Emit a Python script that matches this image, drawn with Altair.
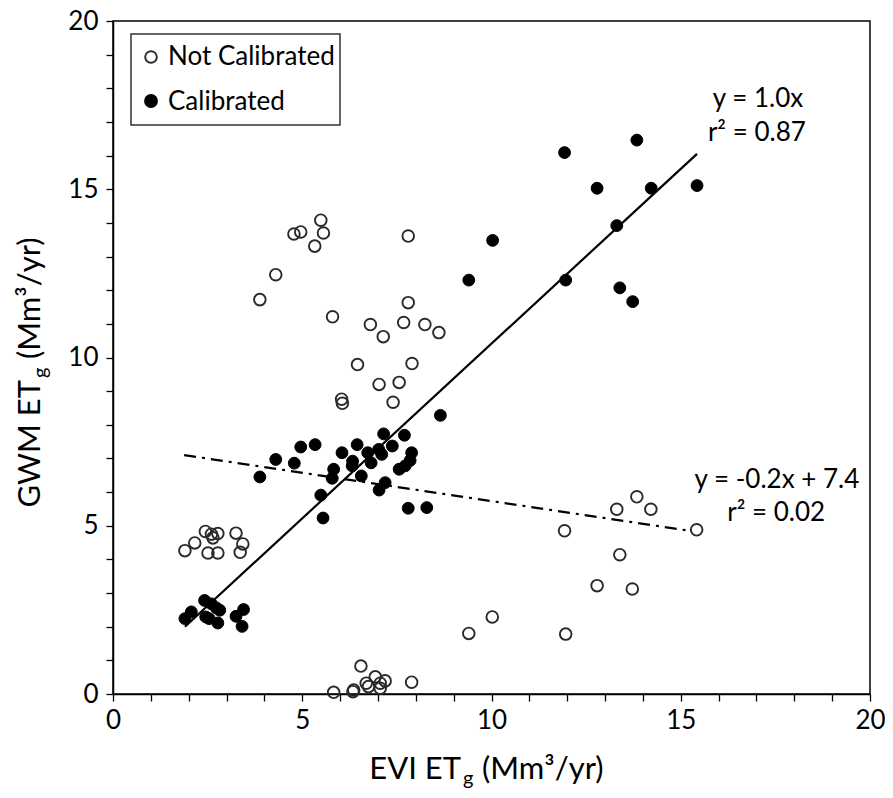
import altair as alt
import pandas as pd

# ---------------- data ----------------
NC_X = [4.78, 4.96, 5.49, 5.56, 5.33, 4.30, 3.88, 5.80, 7.80, 7.80, 6.80, 7.68, 8.24, 8.61,
        7.14, 6.46, 7.90, 7.03, 7.56, 7.40, 6.04, 6.06,
        1.90, 2.16, 2.44, 2.60, 2.77, 2.64, 2.51, 2.77, 3.25, 3.43, 3.36,
        5.83, 6.34, 6.36, 6.55, 6.93, 6.69, 6.75, 7.06, 7.19, 7.06, 7.89,
        11.93, 13.31, 13.84, 14.21, 15.42, 13.39, 12.79, 13.72, 10.02, 9.40, 11.96]
NC_Y = [13.67, 13.73, 14.08, 13.70, 13.31, 12.46, 11.72, 11.21, 13.61, 11.63, 10.98, 11.04, 10.98, 10.74,
        10.62, 9.79, 9.82, 9.20, 9.26, 8.67, 8.76, 8.64,
        4.26, 4.49, 4.83, 4.75, 4.77, 4.64, 4.19, 4.19, 4.78, 4.46, 4.21,
        0.05, 0.07, 0.12, 0.83, 0.51, 0.32, 0.22, 0.32, 0.39, 0.17, 0.35,
        4.85, 5.49, 5.86, 5.49, 4.88, 4.14, 3.22, 3.12, 2.29, 1.80, 1.78]

CAL_X = [11.93, 13.84, 12.79, 14.22, 15.43, 13.31, 10.03, 9.40, 11.96, 13.39, 13.73,
         3.88, 4.30, 4.79, 4.96, 5.34, 5.83, 5.79, 5.49, 5.55, 6.05, 6.33, 6.45, 6.32, 6.56,
         6.73, 6.82, 7.02, 7.10, 7.15, 7.38, 7.70, 7.89, 7.85, 7.72, 7.56, 7.19, 7.03, 7.80,
         8.29, 8.65,
         1.90, 2.07, 2.42, 2.60, 2.73, 2.82, 2.45, 2.54, 2.77, 3.25, 3.45, 3.41]
CAL_Y = [16.09, 16.46, 15.03, 15.03, 15.11, 13.92, 13.48, 12.30, 12.30, 12.07, 11.66,
         6.45, 6.97, 6.86, 7.34, 7.41, 6.68, 6.41, 5.91, 5.23, 7.17, 6.92, 7.41, 6.78, 6.48,
         7.17, 6.87, 7.27, 7.12, 7.73, 7.37, 7.69, 7.17, 6.94, 6.78, 6.68, 6.28, 6.06, 5.52,
         5.54, 8.28,
         2.24, 2.44, 2.78, 2.68, 2.56, 2.49, 2.29, 2.24, 2.11, 2.31, 2.51, 2.01]

# trend lines (end points as drawn)
CAL_FIT_X = [1.90, 15.43]
CAL_FIT_Y = [2.00, 16.05]
NC_FIT_X = [1.88, 15.24]
NC_FIT_Y = [7.10, 4.85]

ANN_TEXT = ["y = 1.0x", "r\u00b2 = 0.87", "y = -0.2x + 7.4", "r\u00b2 = 0.02"]
ANN_X = [17.04, 17.01, 17.54, 17.52]
ANN_Y = [17.69, 16.68, 6.35, 5.37]

TICKS = list(range(0, 21))
FONT = "Lato"
INK = "#000000"

W, H = 757, 673

nc = pd.DataFrame({"x": NC_X, "y": NC_Y})
cal = pd.DataFrame({"x": CAL_X, "y": CAL_Y})
cal_fit = pd.DataFrame({"x": CAL_FIT_X, "y": CAL_FIT_Y})
nc_fit = pd.DataFrame({"x": NC_FIT_X, "y": NC_FIT_Y})
ann = pd.DataFrame({"t": ANN_TEXT, "x": ANN_X, "y": ANN_Y})
one = pd.DataFrame({"a": [0]})

xs = alt.Scale(domain=[0, 20], nice=False, zero=False)
ys = alt.Scale(domain=[0, 20], nice=False, zero=False)

label_expr = "datum.value % 5 == 0 ? datum.label : ''"
x_axis = alt.Axis(values=TICKS, labelExpr=label_expr, title=None, grid=False,
                  tickSize=7, tickColor=INK, domainColor=INK, tickWidth=1.3, domainWidth=1.5,
                  labelFont=FONT, labelFontSize=26, labelColor=INK, labelPadding=6,
                  labelOverlap=False, labelFlush=False)
y_axis = alt.Axis(values=TICKS, labelExpr=label_expr, title=None, grid=False,
                  tickSize=7, tickColor=INK, domainColor=INK, tickWidth=1.3, domainWidth=1.5,
                  labelFont=FONT, labelFontSize=26, labelColor=INK, labelPadding=8,
                  labelOverlap=False, labelFlush=False)

X = alt.X("x:Q", scale=xs, axis=x_axis)
Y = alt.Y("y:Q", scale=ys, axis=y_axis)

open_pts = alt.Chart(nc).mark_point(shape="circle", filled=False, stroke="#2a2a2a",
                                    strokeWidth=1.9, size=135, opacity=1).encode(x=X, y=Y)
fill_pts = alt.Chart(cal).mark_point(shape="circle", filled=True, fill=INK, stroke=INK,
                                     strokeWidth=1, size=140, opacity=1).encode(x=X, y=Y)

cal_line = alt.Chart(cal_fit).mark_line(color=INK, strokeWidth=2.2).encode(x=X, y=Y)
nc_line = alt.Chart(nc_fit).mark_line(color=INK, strokeWidth=2.2,
                                      strokeDash=[12, 6, 3, 6]).encode(x=X, y=Y)

ann_text = alt.Chart(ann).mark_text(font=FONT, fontSize=26, color=INK, align="center",
                                    baseline="middle").encode(x=X, y=Y, text="t:N")

# ---------------- legend box (manual) ----------------
leg_box = alt.Chart(one).mark_rect(fill="white", stroke="#333333", strokeWidth=1.5).encode(
    x=alt.value(18), x2=alt.value(227), y=alt.value(13), y2=alt.value(104))
leg_sym1 = alt.Chart(one).mark_point(shape="circle", filled=False, stroke="#2a2a2a",
                                     strokeWidth=1.9, size=135, opacity=1).encode(
    x=alt.value(38), y=alt.value(36))
leg_sym2 = alt.Chart(one).mark_point(shape="circle", filled=True, fill=INK, stroke=INK,
                                     size=140, opacity=1).encode(
    x=alt.value(38), y=alt.value(80))
leg_txt1 = alt.Chart(one).mark_text(text="Not Calibrated", font=FONT, fontSize=26, color=INK,
                                    align="left", baseline="middle").encode(
    x=alt.value(55), y=alt.value(36))
leg_txt2 = alt.Chart(one).mark_text(text="Calibrated", font=FONT, fontSize=26, color=INK,
                                    align="left", baseline="middle").encode(
    x=alt.value(55), y=alt.value(81))

# ---------------- axis titles with subscript g ----------------
TS = 31
SUB = 20
xt1 = alt.Chart(one).mark_text(text="EVI ET", font=FONT, fontSize=TS, color=INK,
                               align="right", baseline="alphabetic").encode(
    x=alt.value(348), y=alt.value(758))
xt2 = alt.Chart(one).mark_text(text="g", font=FONT, fontSize=SUB, color=INK,
                               align="left", baseline="alphabetic").encode(
    x=alt.value(350), y=alt.value(764))
xt3 = alt.Chart(one).mark_text(text="(Mm\u00b3/yr)", font=FONT, fontSize=TS, color=INK,
                               align="left", baseline="alphabetic").encode(
    x=alt.value(369), y=alt.value(758))

yt1 = alt.Chart(one).mark_text(text="GWM ET", font=FONT, fontSize=TS, color=INK, angle=270,
                               align="right", baseline="alphabetic").encode(
    x=alt.value(-73), y=alt.value(359))
yt2 = alt.Chart(one).mark_text(text="g", font=FONT, fontSize=SUB, color=INK, angle=270,
                               align="left", baseline="alphabetic").encode(
    x=alt.value(-66), y=alt.value(357))
yt3 = alt.Chart(one).mark_text(text="(Mm\u00b3/yr)", font=FONT, fontSize=TS, color=INK, angle=270,
                               align="left", baseline="alphabetic").encode(
    x=alt.value(-73), y=alt.value(338))

chart = alt.layer(
    open_pts, fill_pts, cal_line, nc_line, ann_text,
    leg_box, leg_sym1, leg_sym2, leg_txt1, leg_txt2,
    xt1, xt2, xt3, yt1, yt2, yt3,
).properties(
    width=W, height=H,
    autosize=alt.AutoSizeParams(type="none"),
    padding={"left": 105, "top": 13, "right": 15, "bottom": 96},
    background="white",
).configure_view(stroke=INK, strokeWidth=1.5)

chart.save("out.html", embed_options={"renderer": "svg", "actions": False})
